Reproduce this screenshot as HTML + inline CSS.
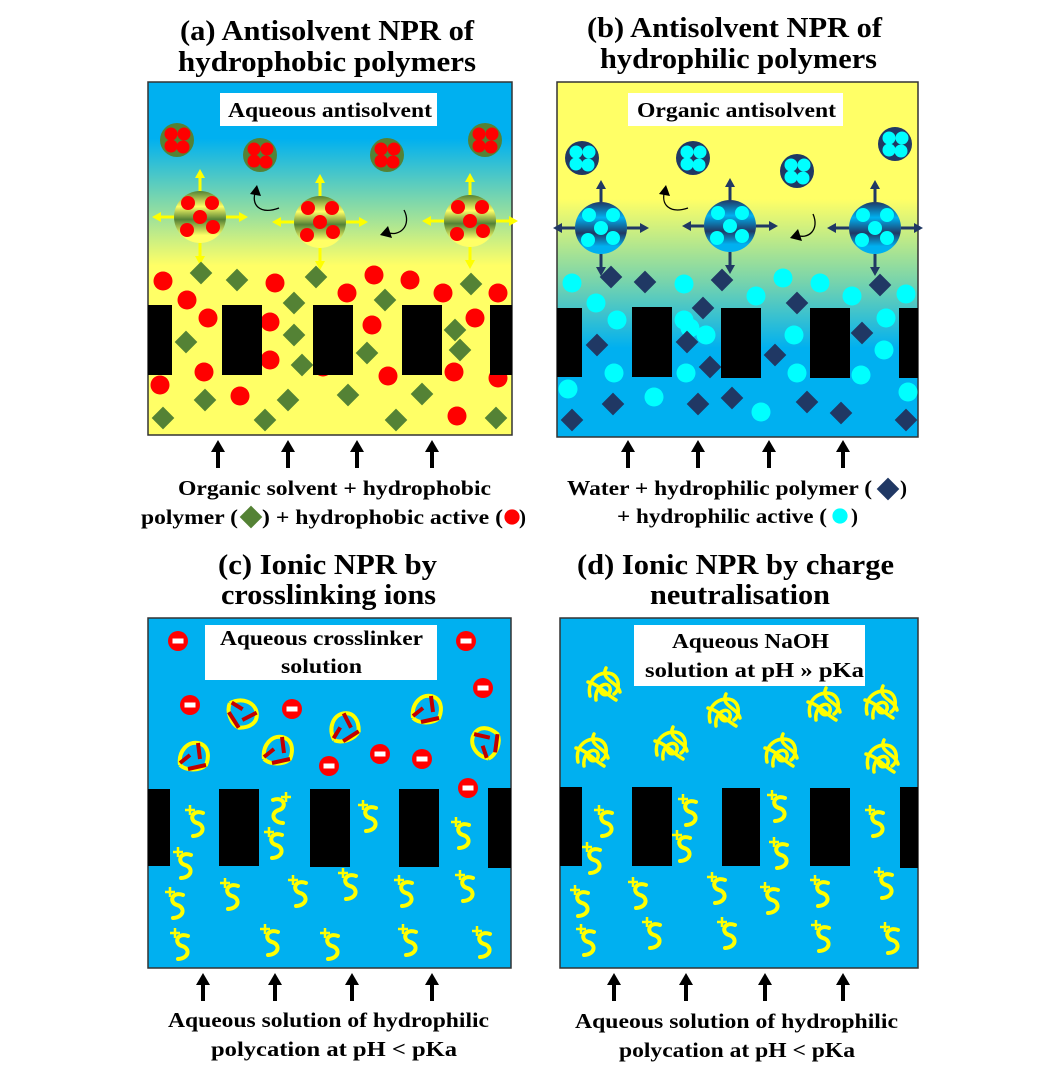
<!DOCTYPE html>
<html><head><meta charset="utf-8"><style>
html,body{margin:0;padding:0;background:#fff;width:1045px;height:1089px;overflow:hidden}
svg{display:block}
text{font-family:"Liberation Serif",serif;font-weight:bold;fill:#000}
</style></head><body>
<svg width="1045" height="1089" viewBox="0 0 1045 1089" xmlns="http://www.w3.org/2000/svg">
<defs>
<linearGradient id="ga" x1="0" y1="0" x2="0" y2="1">
<stop offset="0" stop-color="#00b0f0"/><stop offset="0.16" stop-color="#00b0f0"/><stop offset="0.52" stop-color="#ffff66"/><stop offset="1" stop-color="#ffff66"/></linearGradient>
<linearGradient id="gb" x1="0" y1="0" x2="0" y2="1">
<stop offset="0" stop-color="#ffff66"/><stop offset="0.33" stop-color="#ffff66"/><stop offset="0.55" stop-color="#7fd6a8"/><stop offset="0.75" stop-color="#00b0f0"/><stop offset="1" stop-color="#00b0f0"/></linearGradient>
<linearGradient id="sa" x1="0" y1="0" x2="0" y2="1">
<stop offset="0" stop-color="#548235"/><stop offset="0.3" stop-color="#ffff66"/><stop offset="0.55" stop-color="#548235"/><stop offset="0.85" stop-color="#ffff66"/><stop offset="1" stop-color="#ffff66"/></linearGradient>
<linearGradient id="sb" x1="0" y1="0" x2="0" y2="1">
<stop offset="0" stop-color="#203864"/><stop offset="0.3" stop-color="#00b0f0"/><stop offset="0.6" stop-color="#203864"/><stop offset="0.85" stop-color="#00b0f0"/><stop offset="1" stop-color="#00b0f0"/></linearGradient>
<g id="rd"><circle r="9.5" fill="#ff0000"/></g>
<g id="cd"><circle r="9.5" fill="#00ffff"/></g>
<g id="gd"><rect x="-8" y="-8" width="16" height="16" transform="rotate(45)" fill="#548235"/></g>
<g id="nd"><rect x="-8" y="-8" width="16" height="16" transform="rotate(45)" fill="#203864"/></g>
<g id="sma"><circle r="17" fill="#548235"/><circle cx="-6" cy="-6" r="6.5" fill="#f00"/><circle cx="7" cy="-6" r="6.5" fill="#f00"/><circle cx="-6" cy="6" r="6.5" fill="#f00"/><circle cx="6" cy="7" r="6.5" fill="#f00"/></g>
<g id="smb"><circle r="17" fill="#203864"/><circle cx="-6" cy="-6" r="6.5" fill="#0ff"/><circle cx="7" cy="-6" r="6.5" fill="#0ff"/><circle cx="-6" cy="6" r="6.5" fill="#0ff"/><circle cx="6" cy="7" r="6.5" fill="#0ff"/></g>
<g id="ar"><path d="M0,0V-15" stroke="currentColor" stroke-width="3"/><path d="M-5,-13L0,-22L5,-13Z" fill="currentColor"/></g>
<g id="bga" color="#ffff00">
<circle r="26" fill="url(#sa)"/>
<use href="#ar" transform="translate(0,-26)"/><use href="#ar" transform="translate(0,26) rotate(180)"/><use href="#ar" transform="translate(-26,0) rotate(-90)"/><use href="#ar" transform="translate(26,0) rotate(90)"/>
<circle cx="-12" cy="-14" r="7" fill="#f00"/><circle cx="12" cy="-14" r="7" fill="#f00"/><circle cx="0" cy="0" r="7" fill="#f00"/><circle cx="-13" cy="13" r="7" fill="#f00"/><circle cx="13" cy="10" r="7" fill="#f00"/></g>
<g id="bgb" color="#203864">
<circle r="26" fill="url(#sb)"/>
<use href="#ar" transform="translate(0,-26)"/><use href="#ar" transform="translate(0,26) rotate(180)"/><use href="#ar" transform="translate(-26,0) rotate(-90)"/><use href="#ar" transform="translate(26,0) rotate(90)"/>
<circle cx="-12" cy="-13" r="7" fill="#0ff"/><circle cx="12" cy="-13" r="7" fill="#0ff"/><circle cx="0" cy="0" r="7" fill="#0ff"/><circle cx="-13" cy="12" r="7" fill="#0ff"/><circle cx="12" cy="10" r="7" fill="#0ff"/></g>
<g id="w"><path d="M6,-10 C-6,-14 -8,-2 0,0 C8,2 8,12 -4,13" fill="none" stroke="#ffff00" stroke-width="4" stroke-linecap="round"/><path d="M-12,-13h10M-7,-18v10" stroke="#ffff00" stroke-width="2.5"/></g>
<g id="k" fill="none" stroke="#ffff00" stroke-width="3.5" stroke-linecap="round"><path d="M-14,10 C-18,-8 -2,-16 8,-12 C16,-8 16,4 10,8"/><path d="M-8,14 C-10,0 4,-6 6,2 C8,10 -4,12 -4,2"/><path d="M2,-18 C-4,-6 14,-4 16,6"/><path d="M-16,-4 C-6,-2 2,8 12,14"/></g>
<g id="m"><circle r="10" fill="#f00"/><rect x="-5.5" y="-2.5" width="11" height="5" fill="#fff"/></g>
<g id="x"><path d="M-14,10 C-16,-4 -6,-14 4,-12 C14,-10 16,0 12,10 C6,16 -8,16 -14,10" fill="none" stroke="#ffff00" stroke-width="4"/><path d="M-14,8 L-4,0 M4,-12 L6,4 M12,10 L-6,14" stroke="#c00000" stroke-width="4"/></g>
<g id="ba"><path d="M0,28V10" stroke="#000" stroke-width="4"/><path d="M-7,12L0,0L7,12Z"/></g>
</defs>

<!-- Titles -->
<g font-size="28" lengthAdjust="spacingAndGlyphs">
<text x="180" y="40" textLength="294" lengthAdjust="spacingAndGlyphs">(a) Antisolvent NPR of</text><text x="178" y="71" textLength="298" lengthAdjust="spacingAndGlyphs">hydrophobic polymers</text>
<text x="587" y="37" textLength="295" lengthAdjust="spacingAndGlyphs">(b) Antisolvent NPR of</text><text x="600" y="68" textLength="277" lengthAdjust="spacingAndGlyphs">hydrophilic polymers</text>
<text x="218" y="574" textLength="219" lengthAdjust="spacingAndGlyphs">(c) Ionic NPR by</text><text x="221" y="604" textLength="215" lengthAdjust="spacingAndGlyphs">crosslinking ions</text>
<text x="577" y="574" textLength="317" lengthAdjust="spacingAndGlyphs">(d) Ionic NPR by charge</text><text x="650" y="604" textLength="180" lengthAdjust="spacingAndGlyphs">neutralisation</text>
</g>

<!-- Panel A -->
<rect x="148" y="82" width="364" height="353" fill="url(#ga)" stroke="#333" stroke-width="1.5"/>
<rect x="220" y="93" width="217" height="33" fill="#fff"/>
<text x="228" y="117" font-size="21" textLength="204" lengthAdjust="spacingAndGlyphs">Aqueous antisolvent</text>
<use href="#sma" x="177" y="140"/><use href="#sma" x="260" y="155"/><use href="#sma" x="387" y="155"/><use href="#sma" x="485" y="140"/>
<use href="#bga" x="200" y="217"/><use href="#bga" x="320" y="222"/><use href="#bga" x="470" y="221"/>
<path d="M279,208 C260,215 250,205 256,190" fill="none" stroke="#000" stroke-width="1.3"/><path d="M250,194L257,185L261,196Z"/>
<path d="M404,210 C412,225 400,238 386,232" fill="none" stroke="#000" stroke-width="1.3"/><path d="M388,226L380,235L392,238Z"/>
<g>
<use href="#rd" x="163" y="281"/><use href="#rd" x="187" y="300"/><use href="#rd" x="208" y="318"/><use href="#rd" x="275" y="283"/><use href="#rd" x="270" y="322"/><use href="#rd" x="347" y="293"/><use href="#rd" x="374" y="275"/><use href="#rd" x="372" y="325"/><use href="#rd" x="410" y="280"/><use href="#rd" x="443" y="293"/><use href="#rd" x="498" y="293"/><use href="#rd" x="475" y="318"/><use href="#rd" x="160" y="385"/><use href="#rd" x="204" y="372"/><use href="#rd" x="240" y="396"/><use href="#rd" x="323" y="367"/><use href="#rd" x="388" y="376"/><use href="#rd" x="454" y="372"/><use href="#rd" x="457" y="416"/><use href="#rd" x="498" y="378"/><use href="#rd" x="270" y="360"/>
<use href="#gd" x="201" y="273"/><use href="#gd" x="237" y="280"/><use href="#gd" x="186" y="342"/><use href="#gd" x="294" y="303"/><use href="#gd" x="316" y="277"/><use href="#gd" x="385" y="300"/><use href="#gd" x="367" y="353"/><use href="#gd" x="294" y="335"/><use href="#gd" x="455" y="330"/><use href="#gd" x="471" y="284"/><use href="#gd" x="205" y="400"/><use href="#gd" x="163" y="418"/><use href="#gd" x="265" y="420"/><use href="#gd" x="288" y="400"/><use href="#gd" x="348" y="395"/><use href="#gd" x="422" y="394"/><use href="#gd" x="396" y="420"/><use href="#gd" x="496" y="418"/><use href="#gd" x="302" y="365"/><use href="#gd" x="460" y="350"/>
</g>
<g><rect x="148" y="305" width="24" height="70"/><rect x="222" y="305" width="40" height="70"/><rect x="313" y="305" width="40" height="70"/><rect x="402" y="305" width="40" height="70"/><rect x="490" y="305" width="22" height="70"/></g>
<use href="#ba" x="218" y="440"/><use href="#ba" x="288" y="440"/><use href="#ba" x="357" y="440"/><use href="#ba" x="432" y="440"/>
<g font-size="21">
<text x="178" y="495" textLength="313" lengthAdjust="spacingAndGlyphs">Organic solvent + hydrophobic</text>
<text x="141" y="524" textLength="97" lengthAdjust="spacingAndGlyphs">polymer (</text>
<text x="262" y="524" textLength="241" lengthAdjust="spacingAndGlyphs">) + hydrophobic active (</text>
<text x="519" y="524" textLength="7" lengthAdjust="spacingAndGlyphs">)</text>
</g>
<use href="#gd" x="251" y="517"/><use href="#rd" transform="translate(512,517) scale(0.8)"/>

<!-- Panel B -->
<rect x="557" y="82" width="361" height="355" fill="url(#gb)" stroke="#333" stroke-width="1.5"/>
<rect x="628" y="93" width="215" height="33" fill="#fff"/>
<text x="637" y="117" font-size="21" textLength="199" lengthAdjust="spacingAndGlyphs">Organic antisolvent</text>
<use href="#smb" x="582" y="158"/><use href="#smb" x="693" y="158"/><use href="#smb" x="797" y="171"/><use href="#smb" x="895" y="144"/>
<use href="#bgb" x="601" y="228"/><use href="#bgb" x="730" y="226"/><use href="#bgb" x="875" y="228"/>
<path d="M688,208 C670,214 660,205 665,190" fill="none" stroke="#000" stroke-width="1.3"/><path d="M659,194L666,185L670,196Z"/>
<path d="M813,214 C820,230 808,240 796,235" fill="none" stroke="#000" stroke-width="1.3"/><path d="M798,229L790,238L802,241Z"/>
<g>
<use href="#cd" x="572" y="283"/><use href="#cd" x="596" y="303"/><use href="#cd" x="617" y="320"/><use href="#cd" x="684" y="284"/><use href="#cd" x="684" y="320"/><use href="#cd" x="756" y="296"/><use href="#cd" x="783" y="278"/><use href="#cd" x="820" y="283"/><use href="#cd" x="852" y="296"/><use href="#cd" x="906" y="294"/><use href="#cd" x="886" y="318"/><use href="#cd" x="794" y="335"/><use href="#cd" x="884" y="350"/><use href="#cd" x="686" y="373"/><use href="#cd" x="614" y="373"/><use href="#cd" x="568" y="389"/><use href="#cd" x="654" y="397"/><use href="#cd" x="761" y="412"/><use href="#cd" x="797" y="373"/><use href="#cd" x="861" y="375"/><use href="#cd" x="908" y="392"/><use href="#cd" x="706" y="335"/><use href="#cd" x="690" y="328"/>
<use href="#nd" x="611" y="277"/><use href="#nd" x="645" y="282"/><use href="#nd" x="722" y="280"/><use href="#nd" x="703" y="308"/><use href="#nd" x="797" y="303"/><use href="#nd" x="880" y="285"/><use href="#nd" x="862" y="333"/><use href="#nd" x="597" y="345"/><use href="#nd" x="687" y="342"/><use href="#nd" x="710" y="367"/><use href="#nd" x="775" y="355"/><use href="#nd" x="613" y="404"/><use href="#nd" x="698" y="404"/><use href="#nd" x="732" y="398"/><use href="#nd" x="807" y="402"/><use href="#nd" x="841" y="413"/><use href="#nd" x="572" y="420"/><use href="#nd" x="906" y="420"/>
</g>
<g><rect x="557" y="308" width="25" height="69"/><rect x="632" y="307" width="40" height="70"/><rect x="721" y="308" width="40" height="70"/><rect x="810" y="308" width="40" height="70"/><rect x="899" y="308" width="19" height="70"/></g>
<use href="#ba" x="628" y="440"/><use href="#ba" x="698" y="440"/><use href="#ba" x="769" y="440"/><use href="#ba" x="843" y="440"/>
<g font-size="21">
<text x="567" y="495" textLength="305" lengthAdjust="spacingAndGlyphs">Water + hydrophilic polymer (</text>
<text x="900" y="495" textLength="7" lengthAdjust="spacingAndGlyphs">)</text>
<text x="617" y="523" textLength="210" lengthAdjust="spacingAndGlyphs">+ hydrophilic active (</text>
<text x="851" y="523" textLength="7" lengthAdjust="spacingAndGlyphs">)</text>
</g>
<use href="#nd" x="888" y="489"/><use href="#cd" transform="translate(840,516) scale(0.8)"/>

<!-- Panel C -->
<rect x="148" y="618" width="363" height="350" fill="#00b0f0" stroke="#333" stroke-width="1.5"/>
<rect x="205" y="625" width="232" height="55" fill="#fff"/>
<g font-size="21"><text x="220" y="645" textLength="203" lengthAdjust="spacingAndGlyphs">Aqueous crosslinker</text><text x="281" y="673" textLength="81" lengthAdjust="spacingAndGlyphs">solution</text></g>
<use href="#m" x="178" y="641"/><use href="#m" x="466" y="641"/><use href="#m" x="483" y="688"/><use href="#m" x="190" y="705"/><use href="#m" x="292" y="709"/><use href="#m" x="329" y="766"/><use href="#m" x="380" y="754"/><use href="#m" x="422" y="759"/><use href="#m" x="468" y="788"/>
<use href="#x" x="194" y="755"/><use href="#x" x="244" y="713" transform="rotate(70 244 713)"/><use href="#x" x="278" y="749"/><use href="#x" x="344" y="726" transform="rotate(-20 344 726)"/><use href="#x" x="427" y="708"/><use href="#x" x="484" y="742" transform="rotate(-70 484 742)"/>
<g><rect x="148" y="789" width="22" height="77"/><rect x="219" y="789" width="40" height="77"/><rect x="310" y="789" width="40" height="78"/><rect x="399" y="789" width="40" height="78"/><rect x="488" y="788" width="23" height="80"/></g>
<g>
<use href="#w" x="197" y="823"/><use href="#w" x="185" y="865"/><use href="#w" x="276" y="845"/><use href="#w" x="279" y="810" transform="scale(-1,1) translate(-558,0)"/><use href="#w" x="370" y="818"/><use href="#w" x="463" y="835"/>
<use href="#w" x="177" y="905"/><use href="#w" x="232" y="896"/><use href="#w" x="300" y="893"/><use href="#w" x="350" y="886"/><use href="#w" x="406" y="893"/><use href="#w" x="467" y="888"/>
<use href="#w" x="182" y="946"/><use href="#w" x="272" y="942"/><use href="#w" x="332" y="946"/><use href="#w" x="410" y="942"/><use href="#w" x="484" y="944"/>
</g>
<use href="#ba" x="203" y="973"/><use href="#ba" x="275" y="973"/><use href="#ba" x="352" y="973"/><use href="#ba" x="432" y="973"/>
<g font-size="21"><text x="168" y="1027" textLength="321" lengthAdjust="spacingAndGlyphs">Aqueous solution of hydrophilic</text><text x="211" y="1056" textLength="246" lengthAdjust="spacingAndGlyphs">polycation at pH &lt; pKa</text></g>

<!-- Panel D -->
<rect x="560" y="618" width="358" height="350" fill="#00b0f0" stroke="#333" stroke-width="1.5"/>
<rect x="634" y="625" width="231" height="61" fill="#fff"/>
<g font-size="21"><text x="672" y="648" textLength="157" lengthAdjust="spacingAndGlyphs">Aqueous NaOH</text><text x="645" y="677" textLength="219" lengthAdjust="spacingAndGlyphs">solution at pH » pKa</text></g>
<use href="#k" x="604" y="686"/><use href="#k" x="592" y="752"/><use href="#k" x="724" y="712"/><use href="#k" x="671" y="745"/><use href="#k" x="824" y="706"/><use href="#k" x="881" y="704"/><use href="#k" x="781" y="752"/><use href="#k" x="882" y="758"/>
<g><rect x="560" y="787" width="22" height="79"/><rect x="632" y="787" width="40" height="79"/><rect x="722" y="788" width="38" height="78"/><rect x="810" y="788" width="40" height="78"/><rect x="900" y="787" width="18" height="81"/></g>
<g>
<use href="#w" x="606" y="823"/><use href="#w" x="594" y="860"/><use href="#w" x="690" y="812"/><use href="#w" x="684" y="848"/><use href="#w" x="779" y="808"/><use href="#w" x="781" y="855"/><use href="#w" x="877" y="823"/>
<use href="#w" x="582" y="903"/><use href="#w" x="640" y="895"/><use href="#w" x="719" y="890"/><use href="#w" x="772" y="900"/><use href="#w" x="822" y="893"/><use href="#w" x="886" y="885"/>
<use href="#w" x="588" y="942"/><use href="#w" x="654" y="935"/><use href="#w" x="729" y="935"/><use href="#w" x="823" y="938"/><use href="#w" x="892" y="940"/>
</g>
<use href="#ba" x="614" y="973"/><use href="#ba" x="686" y="973"/><use href="#ba" x="765" y="973"/><use href="#ba" x="843" y="973"/>
<g font-size="21"><text x="575" y="1028" textLength="323" lengthAdjust="spacingAndGlyphs">Aqueous solution of hydrophilic</text><text x="619" y="1057" textLength="236" lengthAdjust="spacingAndGlyphs">polycation at pH &lt; pKa</text></g>
</svg>
</body></html>
